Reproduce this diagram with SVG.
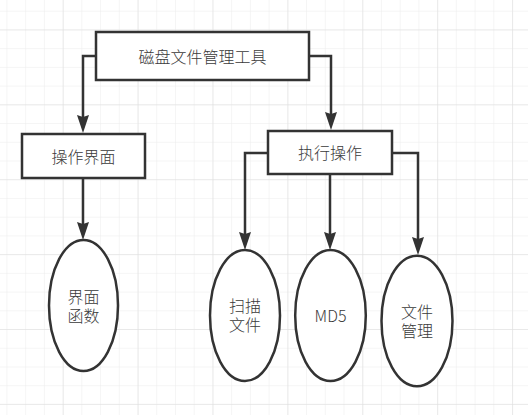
<svg xmlns="http://www.w3.org/2000/svg" width="528" height="415" viewBox="0 0 528 415">
  <defs>
    <pattern id="minor" patternUnits="userSpaceOnUse" x="6.44" y="10.7" width="18.725" height="18.725">
      <path d="M0,0 V18.725 M0,0 H18.725" fill="none" stroke="#ececec" stroke-width="1"/>
    </pattern>
    <pattern id="major" patternUnits="userSpaceOnUse" x="62.7" y="29.4" width="74.9" height="74.9">
      <path d="M0,0 V74.9 M0,0 H74.9" fill="none" stroke="#dedede" stroke-width="1"/>
    </pattern>
    <marker id="arrow" viewBox="0 0 18 12" refX="10" refY="6" markerWidth="18" markerHeight="12" markerUnits="userSpaceOnUse" orient="auto">
      <path d="M0,0 L18,6 L0,12 L2,6 Z" fill="#333333" stroke="none"/>
    </marker>
    <style>
      .box { fill: #ffffff; stroke: #333333; stroke-width: 2.5; }
      .edge { fill: none; stroke: #333333; stroke-width: 2.5; marker-end: url(#arrow); }
      .label { font-family: "Microsoft YaHei", "Noto Sans CJK SC", "Noto Sans", sans-serif; font-size: 16px; font-weight: 300; fill: #3a3a3a; text-anchor: middle; }
    </style>
  </defs>
  <rect width="528" height="415" fill="#ffffff"/>
  <rect width="528" height="415" fill="url(#minor)"/>
  <rect width="528" height="415" fill="url(#major)"/>

  <g id="connectors">
    <path class="edge" d="M96,56 H83 V125"/>
    <path class="edge" d="M309,56 H331 V122"/>
    <path class="edge" d="M83,178 V232"/>
    <path class="edge" d="M268,153 H245 V242"/>
    <path class="edge" d="M330,174 V242"/>
    <path class="edge" d="M392,153 H418 V247"/>
  </g>

  <g id="node-root">
    <rect class="box" x="96" y="32" width="213" height="48"/>
    <text class="label" x="202.5" y="62.5">磁盘文件管理工具</text>
  </g>
  <g id="node-ui">
    <rect class="box" x="22" y="134" width="123" height="44"/>
    <text class="label" x="83.5" y="162.5">操作界面</text>
  </g>
  <g id="node-exec">
    <rect class="box" x="268" y="131" width="124" height="43"/>
    <text class="label" x="330" y="158.5">执行操作</text>
  </g>
  <g id="node-uifunc">
    <ellipse class="box" cx="83.5" cy="305.5" rx="34.5" ry="65.5"/>
    <text class="label" x="83.5" y="302.5">界面<tspan x="83.5" dy="19.5">函数</tspan></text>
  </g>
  <g id="node-scan">
    <ellipse class="box" cx="245" cy="315.5" rx="35" ry="65.5"/>
    <text class="label" x="245" y="311.5">扫描<tspan x="245" dy="19.5">文件</tspan></text>
  </g>
  <g id="node-md5">
    <ellipse class="box" cx="330.5" cy="315.5" rx="35.3" ry="65.5"/>
    <text class="label" x="330.5" y="321.5">MD5</text>
  </g>
  <g id="node-filemgr">
    <ellipse class="box" cx="417" cy="321" rx="35.5" ry="65.3"/>
    <text class="label" x="417" y="317.5">文件<tspan x="417" dy="19.5">管理</tspan></text>
  </g>
</svg>
